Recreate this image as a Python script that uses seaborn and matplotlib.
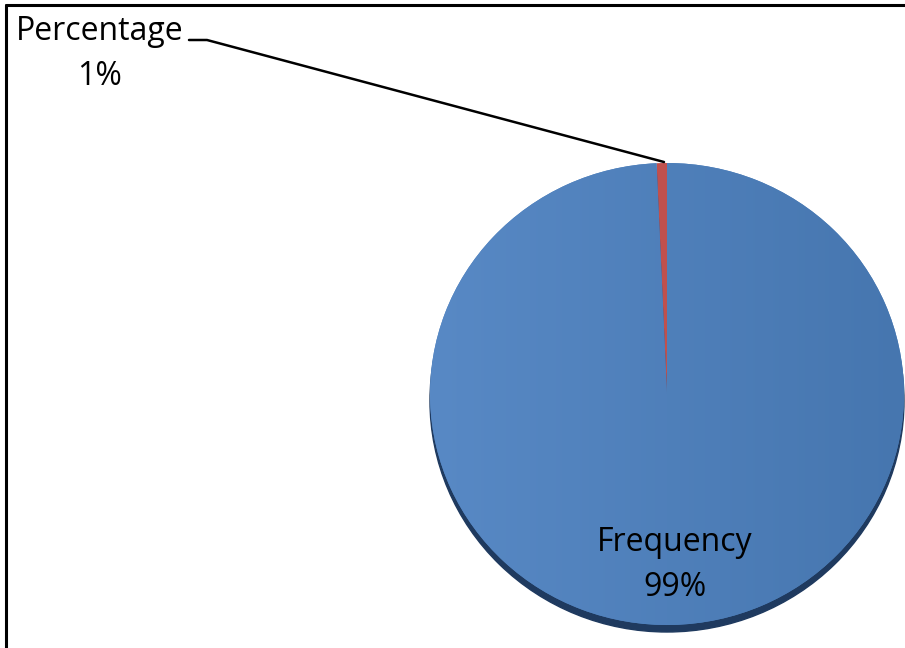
import matplotlib
matplotlib.use("Agg")
import matplotlib.pyplot as plt
import seaborn as sns
import numpy as np
from matplotlib.patches import Circle
from matplotlib.lines import Line2D
from matplotlib.colors import LinearSegmentedColormap

# data
categories = ["Frequency", "Percentage"]
shares = [99.3, 0.7]
slice_colors = ["#4F81BD", "#C0504D"]

sns.set_style("white")
plt.rcParams["font.family"] = ["Open Sans", "DejaVu Sans"]

W, H = 905, 648
fig = plt.figure(figsize=(W / 100, H / 100), dpi=100)
ax = fig.add_axes([0, 0, 1, 1])

# pie is drawn slightly squashed (3-D tilt look)
ys = 231 / 237
cx, cy, r = 667, (H - 394) / ys, 237

# shadow under the pie
ax.add_patch(Circle((cx, cy - 7 / ys), r, color="#1F3A5F", zorder=0))

wedges, _ = ax.pie(shares, colors=slice_colors, startangle=90, counterclock=False,
                   center=(cx, cy), radius=r, wedgeprops=dict(linewidth=0))
for w in wedges:
    w.set_zorder(1)

# soft left-to-right shading on the big slice
shade = LinearSegmentedColormap.from_list("shade", ["#5889C5", "#4676AF"])
img = ax.imshow(np.linspace(0, 1, 256).reshape(1, -1), cmap=shade, aspect="auto",
                extent=(cx - r, cx + r, cy - r, cy + r), zorder=1.5)
img.set_clip_path(wedges[0])

ax.set_xlim(0, W)
ax.set_ylim(0, H / ys)
ax.set_aspect("auto")
ax.axis("off")

labels = [f"{c}\n{s:.0f}%" for c, s in zip(categories, shares)]
ax.text(675, (H - 565) / ys, labels[0], ha="center", va="center", fontsize=23,
        linespacing=1.5, color="black", zorder=3)
ax.text(100, (H - 54) / ys, labels[1], ha="center", va="center", fontsize=23,
        linespacing=1.5, color="black", zorder=3)

# leader line
ax.plot([189, 207, 664], [(H - 40) / ys, (H - 40) / ys, (H - 162) / ys],
        color="black", lw=1.8, zorder=3)

# chart frame (top and left edges visible)
fig.add_artist(Line2D([6 / W, 1], [1 - 5 / H, 1 - 5 / H], color="black", lw=2.2))
fig.add_artist(Line2D([6 / W, 6 / W], [0, 1 - 5 / H], color="black", lw=2.2))

fig.savefig("out.png", dpi=100)
